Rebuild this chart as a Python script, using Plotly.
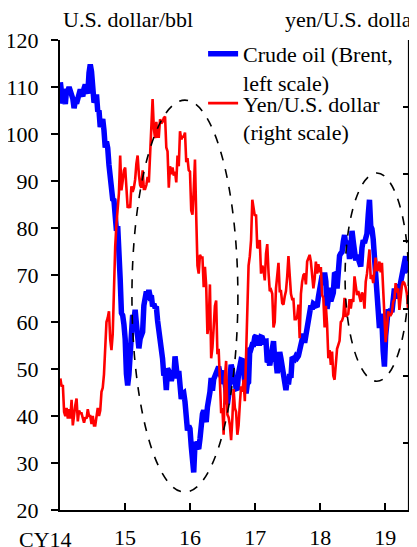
import pandas as pd
import plotly.graph_objects as go

# Weekly (Friday) values
brent_2014 = [111.0, 107.0, 106.5, 107.9, 106.4,
              109.6, 109.1, 110.0, 109.1,
              108.5, 107.5, 105.5, 107.0,
              106.5, 107.5, 109.5, 109.5,
              108.6, 108.0, 109.7, 110.5, 109.4,
              108.6, 113.0, 114.8, 113.3,
              111.0, 106.7, 107.2, 108.4,
              104.8, 105.0, 101.5, 102.3, 103.2,
              100.8, 97.1, 98.4, 97.0,
              93.4, 90.2, 86.2, 86.1, 85.9,
              83.4, 79.4, 80.4, 70.2,
              69.1, 61.9, 61.4, 59.5]
brent_2015 = [56.4, 49.0, 46.5, 48.8, 53.0,
              57.8, 61.5, 60.2, 62.6,
              59.7, 54.7, 54.4, 56.4,
              57.9, 57.9, 63.5, 65.3,
              66.5, 65.4, 66.8, 65.4, 65.6,
              63.3, 63.9, 63.0, 63.3,
              60.3, 58.7, 57.1, 54.6, 52.2,
              48.6, 49.2, 45.5, 50.1,
              49.6, 48.1, 47.5, 48.6,
              48.1, 52.7, 50.5, 48.0, 49.6,
              47.4, 43.6, 44.7, 44.9,
              43.0, 37.9, 36.9, 37.9]
brent_2016 = [37.3, 33.6, 29.0, 28.0, 34.0,
              34.1, 33.4, 33.0, 35.1,
              38.7, 40.4, 41.2, 40.4,
              38.7, 41.9, 43.1, 45.1, 48.1,
              45.4, 47.8, 48.7, 49.3,
              49.6, 50.5, 49.2, 48.4,
              49.7, 46.8, 47.6, 45.7, 42.5,
              44.3, 47.0, 50.9, 49.9,
              46.8, 48.0, 45.8, 45.9, 49.2,
              51.9, 51.9, 51.8, 49.7,
              45.6, 44.8, 46.9, 47.2,
              54.5, 54.3, 55.2, 55.2, 56.8]
brent_2017 = [57.1, 55.5, 55.5, 55.5,
              56.8, 56.7, 55.8, 56.0,
              55.9, 51.4, 51.8, 50.8, 52.8,
              55.2, 55.9, 52.0, 51.7,
              49.1, 50.8, 53.6, 52.2,
              50.0, 48.2, 47.4, 45.5, 47.9,
              46.7, 48.9, 48.1, 52.5,
              52.4, 52.1, 52.7, 52.4,
              52.8, 53.8, 55.6, 56.9, 57.5,
              55.6, 57.2, 57.8, 60.4,
              62.1, 63.5, 62.7, 63.9,
              63.7, 63.4, 63.2, 65.3, 66.9]
brent_2018 = [67.6, 69.9, 68.6, 70.5,
              68.6, 62.8, 64.8, 67.3,
              64.4, 65.5, 66.2, 70.5, 70.3,
              67.1, 72.6, 74.1, 74.6,
              74.9, 77.1, 78.5, 76.4,
              76.8, 76.5, 73.4, 75.6, 79.4,
              77.1, 75.3, 73.1, 74.3,
              73.2, 72.8, 71.8, 75.8, 77.4,
              76.8, 78.1, 78.8, 82.7,
              86.0, 80.4, 79.8, 77.6,
              72.8, 70.2, 66.8, 58.8, 58.7,
              61.7, 60.3, 53.8, 50.5]
brent_2019 = [57.1, 60.5, 62.7, 61.6,
              62.8, 62.1, 66.3, 67.1,
              65.1, 65.7, 67.2, 67.0, 68.4,
              70.3, 71.6, 72.0, 74.0,
              70.9, 70.6]

yen_2014 = [104.8, 104.2, 104.3, 102.3, 102.0,
            102.6, 101.8, 102.5, 101.8,
            103.2, 101.3, 102.3, 102.8,
            103.3, 101.6, 102.4, 102.2,
            102.2, 101.8, 101.5, 101.9, 101.8,
            102.5, 102.0, 102.0, 101.4,
            102.0, 101.3, 101.3, 101.8,
            102.6, 102.0, 102.4, 103.8, 104.1,
            105.1, 107.4, 109.0, 109.3,
            109.8, 107.7, 106.9, 108.1, 112.3,
            114.6, 116.3, 117.8, 118.6,
            121.4, 118.8, 119.5, 120.3]
yen_2015 = [120.5, 118.5, 117.5, 117.7, 117.5,
            119.1, 118.7, 119.0, 119.6,
            120.8, 121.4, 120.0, 119.2,
            119.0, 120.3, 118.9, 118.9,
            119.2, 119.8, 119.4, 121.5, 124.1,
            125.6, 123.4, 122.7, 123.9,
            122.8, 122.8, 124.1, 123.8, 123.9,
            124.2, 124.3, 122.0, 121.7,
            119.0, 120.6, 120.0, 120.5,
            119.9, 120.2, 119.4, 121.4, 120.6,
            123.2, 122.6, 122.8, 122.8,
            123.1, 120.9, 121.2, 120.3]
yen_2016 = [120.2, 117.3, 117.0, 118.8, 121.1,
            116.9, 113.2, 112.6, 114.0,
            113.8, 113.8, 111.6, 113.1,
            111.7, 108.1, 108.8, 111.8, 106.3,
            107.1, 108.6, 110.2, 110.6,
            106.6, 107.0, 104.2, 102.2,
            102.6, 100.6, 104.8, 106.1, 102.1,
            101.9, 101.3, 100.2, 101.8,
            104.0, 102.6, 102.3, 100.6, 101.3,
            102.9, 104.2, 103.8, 104.7,
            103.1, 106.6, 110.9, 113.2,
            113.9, 115.1, 118.1, 117.3, 116.9]
yen_2017 = [117.0, 114.5, 114.6, 115.1,
            112.6, 113.2, 112.9, 112.1,
            114.1, 114.8, 112.7, 111.3, 111.4,
            111.1, 108.6, 109.0, 111.5,
            112.7, 113.4, 111.3, 111.3,
            110.4, 110.3, 110.9, 111.3, 112.4,
            113.9, 112.5, 111.1, 110.7,
            110.7, 109.2, 109.2, 109.4,
            110.3, 107.8, 111.1, 112.0, 112.5,
            112.6, 111.8, 113.5, 113.7,
            114.0, 113.5, 112.1, 111.5,
            112.2, 113.5, 112.6, 113.3, 112.7]
yen_2018 = [113.1, 111.0, 110.8, 108.6,
            110.2, 108.8, 106.3, 106.9,
            105.8, 106.8, 105.0, 104.7, 106.3,
            107.0, 107.3, 107.6, 109.0,
            109.1, 109.4, 110.8, 109.4,
            109.5, 109.6, 110.7, 110.0, 110.7,
            110.5, 112.4, 111.4, 111.0,
            111.3, 110.9, 110.5, 111.2, 111.0,
            110.0, 112.0, 112.6, 113.7,
            114.4, 112.2, 112.5, 111.9,
            113.2, 113.8, 112.8, 112.9, 113.5,
            112.7, 113.4, 111.2, 110.3]
yen_2019 = [107.5, 108.5, 109.8, 109.5,
            109.5, 109.7, 110.5, 110.7,
            111.9, 111.2, 111.5, 109.9, 110.9,
            111.7, 112.0, 111.9, 111.6,
            111.1, 109.9]

brent = brent_2014 + brent_2015 + brent_2016 + brent_2017 + brent_2018 + brent_2019
yen = yen_2014 + yen_2015 + yen_2016 + yen_2017 + yen_2018 + yen_2019
dates = pd.date_range("2014-01-03", periods=len(brent), freq="W-FRI")

year_ticks = ["2014-01-01", "2015-01-01", "2016-01-01", "2017-01-01", "2018-01-01", "2019-01-01"]
year_labels = ["", "15", "16", "17", "18", "19"]

# highlighted periods (data units)
ellipse1 = dict(x0="2015-02-09", x1="2016-09-26", y0=23.8, y1=107.2)
ellipse2 = dict(x0="2018-05-21", x1="2019-05-12", y0=47.4, y1=91.7)

FONT = "Times New Roman, Liberation Serif, DejaVu Serif, serif"
FS = 22

fig = go.Figure()
fig.add_trace(go.Scatter(x=dates, y=brent, mode="lines", legend="legend",
                         name="Crude oil (Brent,<br>left scale)",
                         line=dict(color="#0000FF", width=5.5)))
fig.add_trace(go.Scatter(x=dates, y=yen, mode="lines", yaxis="y2", legend="legend2",
                         name="Yen/U.S. dollar<br>(right scale)",
                         line=dict(color="#FF0000", width=2.6)))

for e in (ellipse1, ellipse2):
    fig.add_shape(type="circle", xref="x", yref="y", **e,
                  line=dict(color="black", width=1.6, dash="dash"))

# right-hand axis frame line
fig.add_shape(type="line", xref="paper", yref="paper", x0=1, x1=1, y0=0, y1=1,
              line=dict(color="black", width=2.2), layer="above")

leg_common = dict(x=0.41, xanchor="left", yanchor="top",
                  bgcolor="rgba(0,0,0,0)", font=dict(family=FONT, size=FS),
                  valign="top")

# page body has an 8px margin, so the figure is sized/margined to land the
# plot area at the reference position in the 417x547 window
fig.update_layout(
    width=409, height=539,
    margin=dict(l=52, r=8, t=32, b=37, autoexpand=False),
    paper_bgcolor="white", plot_bgcolor="white",
    font=dict(family=FONT, size=FS, color="black"),
    showlegend=True,
    legend=dict(y=1.015, **leg_common),
    legend2=dict(y=0.910, **leg_common),
    xaxis=dict(type="date", range=["2014-01-01", "2019-05-15"],
               tickvals=year_ticks, ticktext=year_labels,
               ticks="inside", ticklen=7, tickwidth=1.5, tickcolor="black",
               showline=True, linecolor="black", linewidth=2,
               showgrid=False, zeroline=False, ticklabelstandoff=7,
               automargin=False),
    yaxis=dict(range=[20, 120], dtick=10, tick0=20,
               ticks="outside", ticklen=7, tickwidth=1.5, tickcolor="black",
               showline=True, linecolor="black", linewidth=2,
               showgrid=False, zeroline=False, ticklabelstandoff=8,
               automargin=False),
    yaxis2=dict(range=[95, 130], dtick=5, tick0=95, overlaying="y", side="right",
                ticks="inside", ticklen=6, tickwidth=1.5, tickcolor="black",
                showline=True, linecolor="black", linewidth=2,
                showticklabels=False, showgrid=False, zeroline=False,
                automargin=False),
)

fig.add_annotation(text="CY14", xref="x", yref="paper", x="2014-01-01", y=0,
                   xshift=-15, yshift=-15, yanchor="top", showarrow=False,
                   font=dict(family=FONT, size=FS))
fig.add_annotation(text="U.S. dollar/bbl", xref="paper", yref="paper",
                   x=(61 - 60) / 349, y=1, yshift=6, xanchor="left", yanchor="bottom",
                   showarrow=False, font=dict(family=FONT, size=FS))
fig.add_annotation(text="yen/U.S. dollar", xref="paper", yref="paper",
                   x=(283 - 60) / 349, y=1, yshift=6, xanchor="left", yanchor="bottom",
                   showarrow=False, font=dict(family=FONT, size=FS))

fig.write_html("out.html")
